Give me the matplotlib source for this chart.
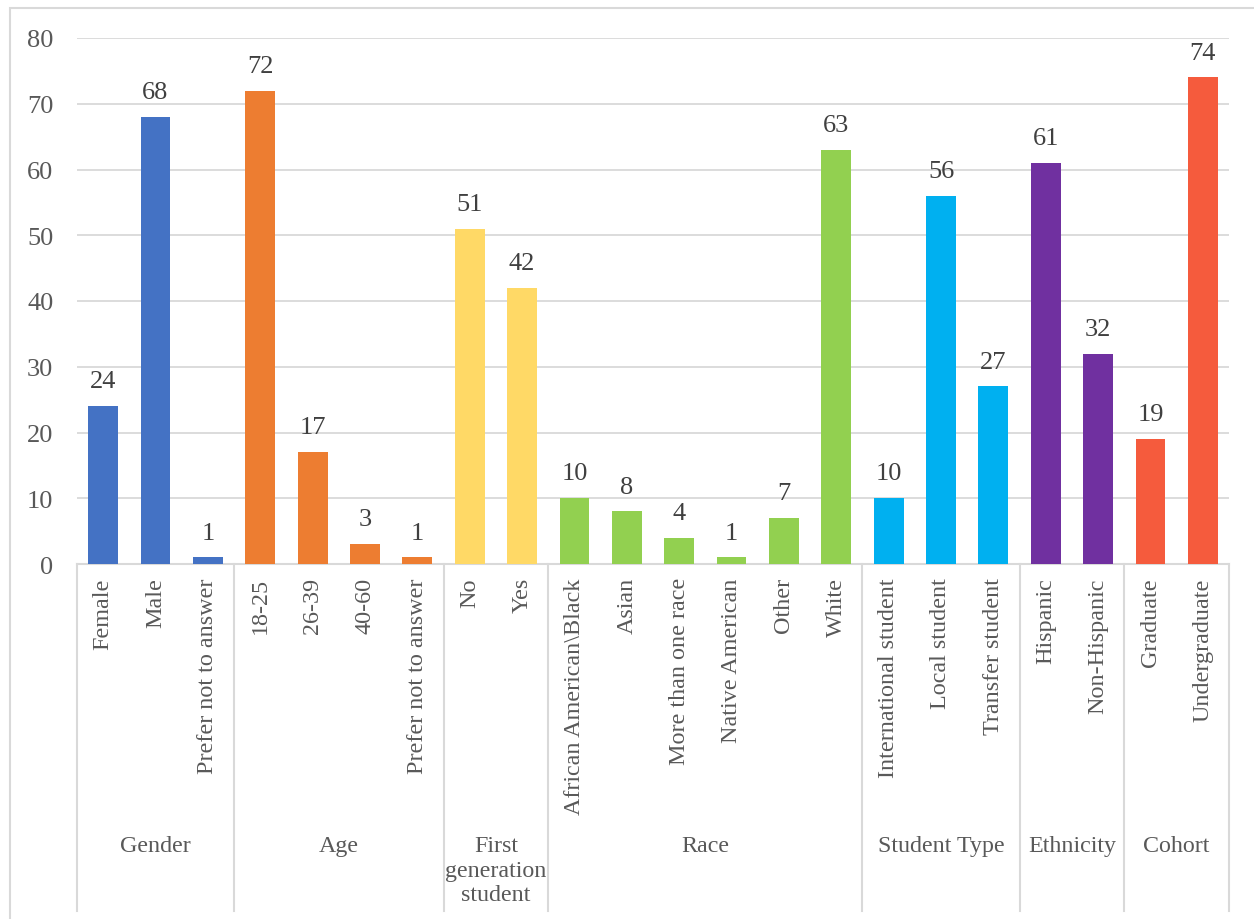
import matplotlib.pyplot as plt
from matplotlib.patches import Rectangle

# data
groups = ["Gender", "Age", "First\ngeneration\nstudent", "Race", "Student Type", "Ethnicity", "Cohort"]
group_items = [
    ["Female", "Male", "Prefer not to answer"],
    ["18-25", "26-39", "40-60", "Prefer not to answer"],
    ["No", "Yes"],
    ["African American\\Black", "Asian", "More than one race", "Native American", "Other", "White"],
    ["International student", "Local student", "Transfer student"],
    ["Hispanic", "Non-Hispanic"],
    ["Graduate", "Undergraduate"],
]
group_values = [
    [24, 68, 1],
    [72, 17, 3, 1],
    [51, 42],
    [10, 8, 4, 1, 7, 63],
    [10, 56, 27],
    [61, 32],
    [19, 74],
]
group_colors = ["#4472C4", "#ED7D31", "#FFD966", "#92D050", "#00B0F0", "#7030A0", "#F55B3D"]

plt.rcParams["font.family"] = ["Liberation Serif", "DejaVu Serif"]
txt = "#595959"
grid = "#D9D9D9"
fs = 17.4
fs_num = 19

fig = plt.figure(figsize=(12.54, 9.2), dpi=100)
W, H = 1254, 920
ax = fig.add_axes([77 / W, (H - 565) / H, (1229 - 77) / W, (565 - 39) / H])

# outer chart border
fig.patches.append(Rectangle((10 / W, -0.01), 1.02, (H - 9) / H + 0.01, transform=fig.transFigure,
                             fill=False, edgecolor=grid, lw=1.5))

xmap = ax.get_xaxis_transform()
pos = 0
bounds = [-0.5]
for g, items, vals, col in zip(groups, group_items, group_values, group_colors):
    xs = list(range(pos, pos + len(items)))
    ax.bar(xs, vals, width=0.57, color=col, zorder=3)
    for x, v in zip(xs, vals):
        ax.annotate(str(v), (x, v), xytext=(0, 10), textcoords="offset points",
                    ha="center", va="bottom", fontsize=fs_num, color="#404040")
    for x, lab in zip(xs, items):
        ax.text(x, -0.025, lab, rotation=90, ha="center", va="top", fontsize=fs,
                color=txt, transform=xmap)
    center = (xs[0] + xs[-1]) / 2
    ax.text(center, -0.516, g, ha="center", va="top", fontsize=17.3, color=txt,
            transform=xmap, linespacing=1.22)
    pos += len(items)
    bounds.append(pos - 0.5)

for b in bounds:
    ax.plot([b, b], [0, -0.66], transform=xmap, color=grid, lw=1.5, clip_on=False)

ax.set_xlim(-0.5, pos - 0.5)
ax.set_ylim(0, 80)
ax.set_yticks(range(0, 81, 10))
ax.set_xticks([])
ax.yaxis.grid(True, color=grid, lw=1.3, zorder=0)
ax.tick_params(axis="y", length=0, pad=17, labelsize=fs_num, labelcolor=txt)
for s in ["top", "right", "left"]:
    ax.spines[s].set_visible(False)
ax.spines["bottom"].set_color(grid)
ax.spines["bottom"].set_linewidth(1.5)

fig.savefig("out.png", dpi=100)
